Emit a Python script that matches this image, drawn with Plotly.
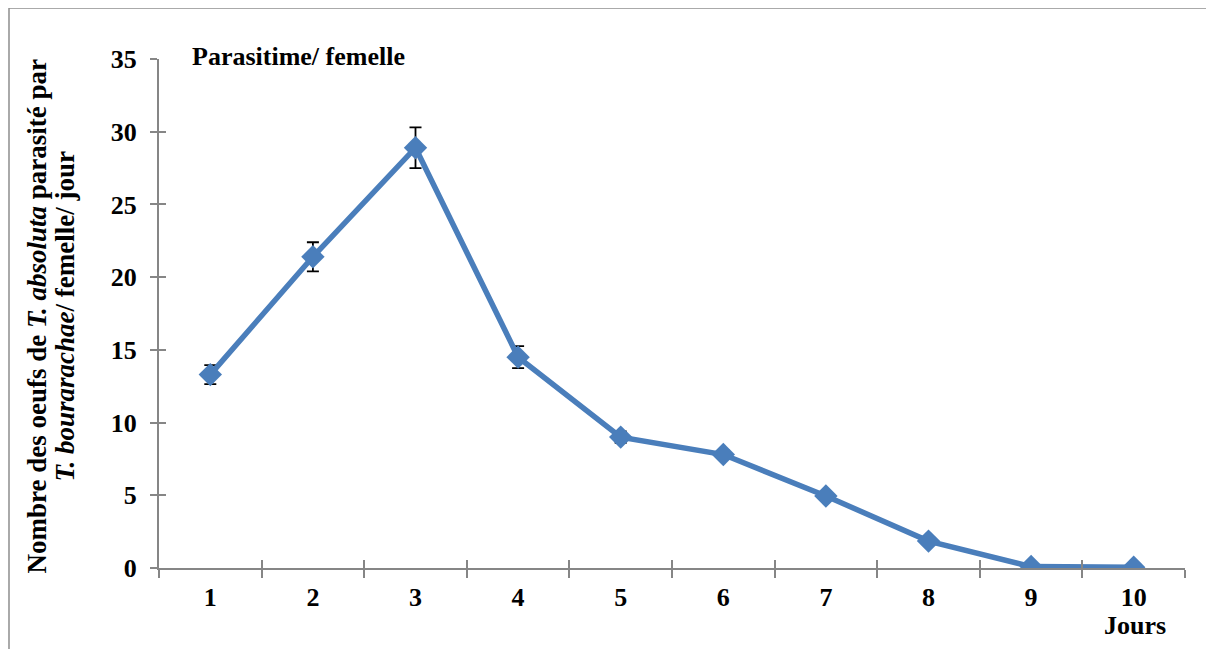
import plotly.graph_objects as go

days = ["1", "2", "3", "4", "5", "6", "7", "8", "9", "10"]
eggs = [13.3, 21.4, 28.9, 14.5, 9.0, 7.8, 4.95, 1.85, 0.1, 0.05]
err = [0.65, 1.0, 1.4, 0.75, 0.4, 0.3, 0.15, 0.1, 0.05, 0.02]
y_ticks = [0, 5, 10, 15, 20, 25, 30, 35]

FONT = "Liberation Serif, Times New Roman, serif"
AX = "#868686"
BLUE = "#4A7EBB"
FS = 26

fig = go.Figure()
fig.add_trace(go.Scatter(
    x=days, y=eggs, mode="lines+markers",
    line=dict(color=BLUE, width=5.5),
    marker=dict(symbol="diamond", size=18, color=BLUE),
    error_y=dict(type="data", array=err, color="black", thickness=1.8, width=6),
    showlegend=False, hoverinfo="skip"))
# invisible copy to draw the inner half of cross ticks
fig.add_trace(go.Scatter(
    x=days, y=eggs, mode="markers", marker=dict(opacity=0),
    xaxis="x2", yaxis="y2", showlegend=False, hoverinfo="skip"))

fig.update_layout(
    width=1206, height=641,
    margin=dict(l=151, r=29, t=51, b=81),
    paper_bgcolor="white", plot_bgcolor="white",
    font=dict(family=FONT, color="black"),
    xaxis=dict(type="category", categoryorder="array", categoryarray=days,
               range=[-0.5, 9.5], showgrid=False, zeroline=False,
               showline=True, linecolor=AX, linewidth=2,
               ticks="outside", ticklen=8, tickwidth=1.5, tickcolor=AX,
               tickson="boundaries", ticklabelstandoff=5,
               tickfont=dict(family=FONT, size=FS, color="black", weight="bold")),
    yaxis=dict(range=[0, 35], tickvals=y_ticks, showgrid=False, zeroline=False,
               showline=True, linecolor=AX, linewidth=2,
               ticks="outside", ticklen=7, tickwidth=1.5, tickcolor=AX,
               ticklabelstandoff=8,
               tickfont=dict(family=FONT, size=FS, color="black", weight="bold")),
    xaxis2=dict(type="category", categoryorder="array", categoryarray=days,
                range=[-0.5, 9.5], overlaying="x", anchor="y2", showgrid=False,
                zeroline=False, showline=False, ticks="inside", ticklen=8,
                tickwidth=1.5, tickcolor=AX, tickson="boundaries",
                showticklabels=False, side="bottom"),
    yaxis2=dict(range=[0, 35], tickvals=y_ticks, overlaying="y", anchor="x2",
                showgrid=False, zeroline=False, showline=False, ticks="inside",
                ticklen=7, tickwidth=1.5, tickcolor=AX, showticklabels=False,
                side="left"),
    shapes=[dict(type="rect", xref="paper", yref="paper",
                 x0=-0.1462, x1=1.1, y0=-0.3, y1=1.1004,
                 line=dict(color="#8E8E8E", width=1.5), fillcolor="rgba(0,0,0,0)",
                 layer="below")],
    annotations=[
        dict(text="<b>Parasitime/ femelle</b>", xref="paper", yref="paper",
             x=0.030, y=1.004, xanchor="left", yanchor="middle", showarrow=False,
             font=dict(family=FONT, size=FS, color="black")),
        dict(text="<b>Jours</b>", xref="paper", yref="paper",
             x=0.951, y=-0.113, xanchor="center", yanchor="middle", showarrow=False,
             font=dict(family=FONT, size=FS, color="black")),
        dict(text="<b>Nombre des oeufs de <i>T. absoluta</i> parasité par</b>",
             xref="paper", yref="paper", x=-0.1189, y=0.494, textangle=-90,
             xanchor="center", yanchor="middle", showarrow=False,
             font=dict(family=FONT, size=27, color="black")),
        dict(text="<b><i>T. bourarachae</i>/ femelle/ jour</b>",
             xref="paper", yref="paper", x=-0.0916, y=0.494, textangle=-90,
             xanchor="center", yanchor="middle", showarrow=False,
             font=dict(family=FONT, size=27, color="black")),
    ],
)

fig.write_html("out.html")
